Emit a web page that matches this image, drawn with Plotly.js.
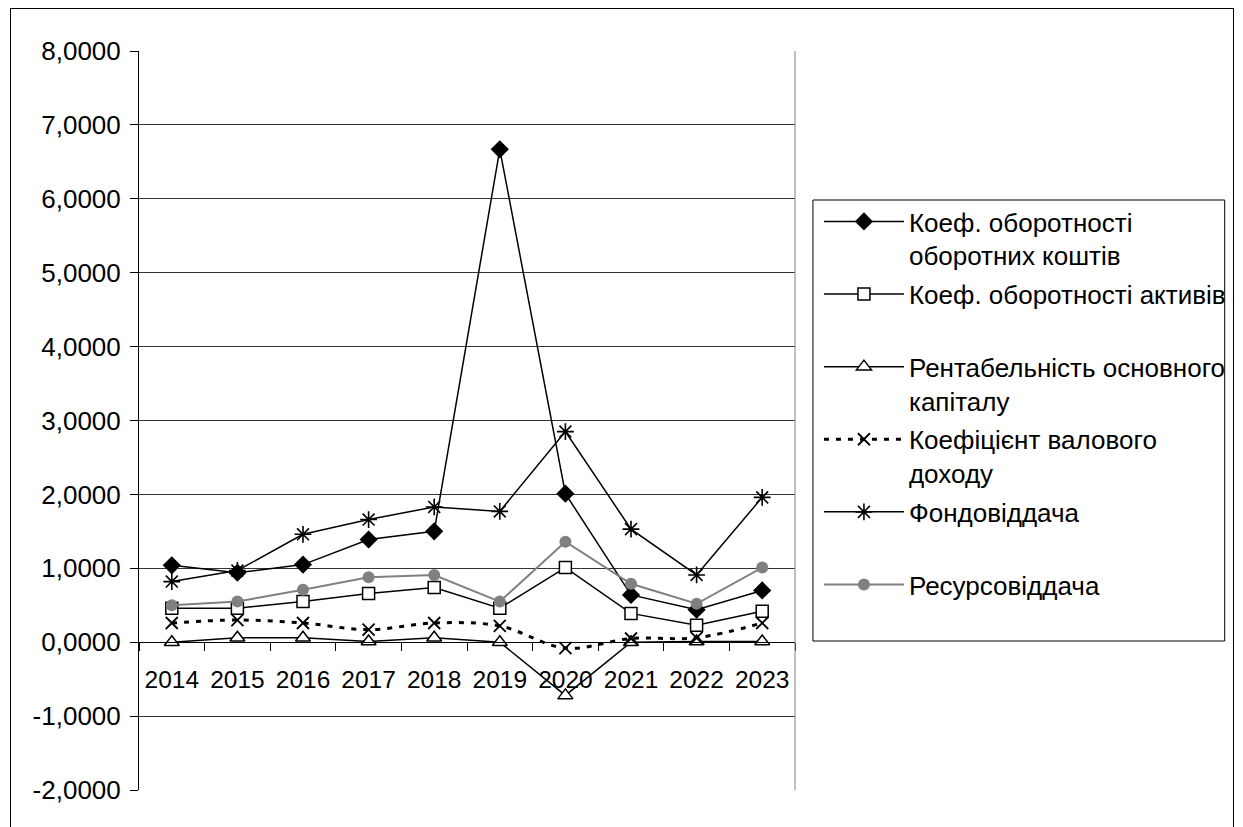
<!DOCTYPE html>
<html><head><meta charset="utf-8">
<script src="https://cdn.plot.ly/plotly-3.0.1.min.js"></script>
<style>
html,body{margin:0;padding:0;background:#fff;overflow:hidden}
#chart{width:1243px;height:827px;position:absolute;left:0;top:0}
#frame{position:absolute;left:10px;top:8px;width:1222px;height:840px;border:1.5px solid #000;pointer-events:none}
</style></head>
<body>
<div id="chart"></div>
<div id="frame"></div>
<script>
const years = ['2014','2015','2016','2017','2018','2019','2020','2021','2022','2023'];
const seriesNames = [
  'Коеф. оборотності<br>оборотних коштів',
  'Коеф. оборотності активів<br> ',
  'Рентабельність основного<br>капіталу',
  'Коефіцієнт валового<br>доходу',
  'Фондовіддача<br> ',
  'Ресурсовіддача<br> '
];
const turnoverCurrent = [1.04, 0.94, 1.05, 1.39, 1.50, 6.67, 2.01, 0.64, 0.44, 0.70];
const turnoverAssets  = [0.46, 0.46, 0.55, 0.66, 0.74, 0.46, 1.01, 0.39, 0.23, 0.42];
const capitalReturn   = [0.00, 0.06, 0.06, 0.01, 0.06, 0.00, -0.72, 0.00, 0.01, 0.01];
const grossIncome     = [0.26, 0.30, 0.26, 0.17, 0.26, 0.22, -0.08, 0.05, 0.06, 0.26];
const fundReturn      = [0.82, 0.97, 1.46, 1.66, 1.83, 1.77, 2.85, 1.53, 0.91, 1.96];
const resourceReturn  = [0.50, 0.55, 0.71, 0.88, 0.91, 0.55, 1.36, 0.79, 0.52, 1.01];
const yTickVals = [-2, -1, 0, 1, 2, 3, 4, 5, 6, 7, 8];
const yTickText = ['-2,0000','-1,0000','0,0000','1,0000','2,0000','3,0000','4,0000','5,0000','6,0000','7,0000','8,0000'];

const FONT = 'Liberation Sans, Arial, sans-serif';
function tr(y, name, i, line, marker, shape){
  return {x: years, y: y, name: name, type:'scatter', mode:'lines+markers',
    legendgroup:'g'+i, line: Object.assign({width:1.5, shape: shape||'linear'}, line),
    marker: marker, cliponaxis:false};
}
const data = [
  tr(turnoverCurrent, seriesNames[0], 0, {color:'#000'}, {symbol:'diamond', size:14, color:'#000'}),
  tr(turnoverAssets, seriesNames[1], 1, {color:'#000'}, {symbol:'square', size:12, color:'#fff', line:{color:'#000', width:1.5}}),
  tr(capitalReturn, seriesNames[2], 2, {color:'#000'}, {symbol:'triangle-up', size:13, color:'#fff', line:{color:'#000', width:1.5}}),
  tr(grossIncome, seriesNames[3], 3, {color:'#000', width:3, dash:'5px,7px'}, {symbol:'x-thin-open', size:12, color:'#000', line:{color:'#000', width:1.8}}, 'spline'),
  tr(fundReturn, seriesNames[4], 4, {color:'#000'}, {symbol:'asterisk-open', size:14, color:'#000', line:{color:'#000', width:1.6}}),
  tr(resourceReturn, seriesNames[5], 5, {color:'#808080', width:2}, {symbol:'circle', size:12, color:'#808080'})
];
const layout = {
  width:1243, height:827,
  margin:{l:139, r:446, t:51, b:37},
  paper_bgcolor:'rgba(0,0,0,0)', plot_bgcolor:'#fff',
  font:{family:FONT, size:24, color:'#000'},
  showlegend:true,
  xaxis:{type:'category', anchor:'free', position:0.2, showline:true, linecolor:'#000', linewidth:1,
    ticks:'outside', ticklen:8, tickcolor:'#000', tickson:'boundaries', showgrid:false,
    tickfont:{family:FONT, size:24.5}, ticklabelstandoff:15, range:[-0.5, 9.5], fixedrange:true},
  yaxis:{range:[-2,8], tickvals:yTickVals, ticktext:yTickText, showline:true, linecolor:'#000', linewidth:1,
    ticks:'outside', ticklen:8, tickcolor:'#000', showgrid:true, gridcolor:'#333', gridwidth:1,
    zeroline:false, tickfont:{family:FONT, size:26}, ticklabelstandoff:4},
  legend:{x:1.0365, y:0.801, xanchor:'left', yanchor:'top', font:{family:FONT, size:26, color:'#000'},
    valign:'top', itemwidth:80, tracegroupgap:2, bgcolor:'rgba(0,0,0,0)', borderwidth:0},
  shapes:[
    {type:'line', xref:'paper', yref:'paper', x0:1, x1:1, y0:0, y1:1, line:{color:'#808080', width:1}},
    {type:'rect', xref:'paper', yref:'paper', x0:(815-139)/658, x1:(1228-139)/658, y0:(790-641)/739, y1:(790-200)/739, line:{color:'#000', width:1}}
  ]
};
Plotly.newPlot('chart', data, layout, {staticPlot:true});
</script>
</body></html>
